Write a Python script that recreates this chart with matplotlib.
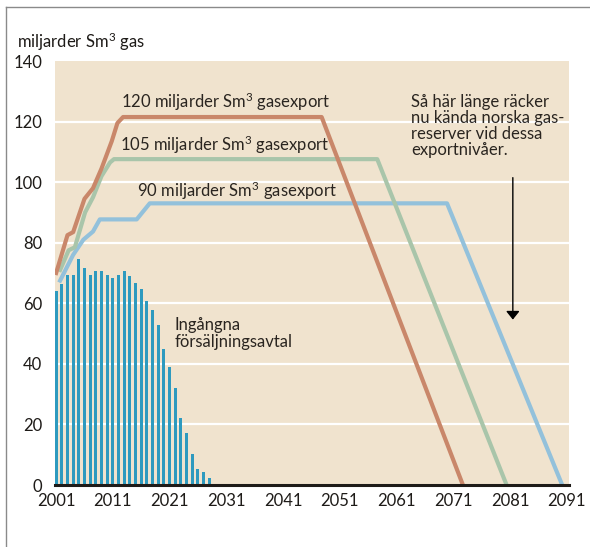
import matplotlib
matplotlib.use("Agg")
import matplotlib.pyplot as plt
from matplotlib.lines import Line2D

plt.rcParams['font.family'] = ['Lato', 'DejaVu Sans']
plt.rcParams['mathtext.fontset'] = 'custom'
plt.rcParams['mathtext.rm'] = 'Lato'
plt.rcParams['mathtext.it'] = 'Lato'

# Ingångna försäljningsavtal, one bar per year 2001-2028
bar_years = list(range(2001, 2029))
bar_values = [64, 66.3, 69.4, 69.4, 74.5, 71.6, 69.4, 70.5, 70.5, 69.4,
              68.5, 69.4, 70.5, 68.9, 66.7, 64.7, 60.7, 57.7, 52.9, 45.0,
              38.8, 32.0, 22.1, 17.3, 10.4, 5.2, 4.4, 2.4]

# export scenarios (knots of each line)
x120 = [2001, 2003, 2004, 2006, 2007.5, 2009, 2010.8, 2011.8, 2012.8, 2047.8, 2072.7]
y120 = [70, 82.5, 83.5, 94.5, 98, 104.5, 113.5, 119.5, 121.5, 121.5, 0]
x105 = [2001.7, 2003.2, 2004.3, 2006.1, 2007.5, 2009, 2010.5, 2011.2, 2057.6, 2080.4]
y105 = [71, 77.5, 78.5, 90, 95, 102, 106.5, 107.6, 107.6, 0]
x90 = [2001.7, 2004, 2005.8, 2007.5, 2008.7, 2015.2, 2017.5, 2069.9, 2090.2]
y90 = [67.5, 76, 81, 83.7, 87.7, 87.7, 93, 93, 0]

xticks = list(range(2001, 2092, 10))
yticks = list(range(0, 141, 20))

BG = '#F0E3CE'
BAR = '#2E9ABF'
ORANGE = '#C9876A'
GREEN = '#A9C5AA'
BLUE = '#93C1DB'
INK = '#1E1B18'

fig = plt.figure(figsize=(5.9, 5.47), dpi=100)
ax = fig.add_axes([55 / 590, 1 - 485 / 547, (569 - 55) / 590, (485 - 61) / 547])
ax.set_facecolor(BG)
ax.set_xlim(2000.8, 2091.4)
ax.set_ylim(0, 140)

for v in yticks[1:-1]:
    ax.axhline(v, color='white', lw=1.6, zorder=1)

ax.bar(bar_years, bar_values, width=0.52, color=BAR, zorder=2)

for xs, ys, c in [(x90, y90, BLUE), (x105, y105, GREEN), (x120, y120, ORANGE)]:
    ax.plot(xs, ys, color=c, lw=3.0, solid_joinstyle='round', zorder=3)

for s in ax.spines.values():
    s.set_visible(False)
ax.axhline(0, color=INK, lw=2.2, zorder=4, clip_on=False)

ax.set_xticks(xticks)
ax.set_xticklabels([str(t) for t in xticks], fontsize=12, color=INK)
ax.set_yticks(yticks)
ax.set_yticklabels([str(t) for t in yticks], fontsize=12, color=INK)
ax.tick_params(length=0)
ax.tick_params(axis='x', pad=6)
ax.tick_params(axis='y', pad=9)

SM3 = r'Sm$^{3}$'
txt = dict(fontsize=12, color='#2A2520', zorder=5)
ax.text(2012.5, 126.5, '120 miljarder ' + SM3 + ' gasexport', va='center', **txt)
ax.text(2012.2, 112.3, '105 miljarder ' + SM3 + ' gasexport', va='center', **txt)
ax.text(2015.2, 97.2, '90 miljarder ' + SM3 + ' gasexport', va='center', **txt)
ax.text(2021.9, 50, 'Ingångna\nförsäljningsavtal', va='center',
        linespacing=1.05, **txt)
ax.text(2063.6, 129, 'Så här länge räcker\nnu kända norska gas-\nreserver vid dessa\nexportnivåer.',
        va='top', linespacing=1.0, **txt)

ax.annotate('', xy=(2081.5, 53.7), xytext=(2081.5, 102.4),
            arrowprops=dict(arrowstyle='-|>,head_length=0.5,head_width=0.4',
                            color='black', lw=1.0), zorder=5)

fig.text(17 / 590, 1 - 42 / 547, 'miljarder ' + SM3 + ' gas', fontsize=12,
         color=INK, va='center')

# thin frame around the graphic
fig.add_artist(Line2D([5.5 / 590, 5.5 / 590], [0, 1 - 7 / 547],
                      color='#8A8A8A', lw=1.0))
fig.add_artist(Line2D([5.5 / 590, 1], [1 - 7 / 547, 1 - 7 / 547],
                      color='#8A8A8A', lw=1.0))

fig.savefig('out.png', dpi=100, facecolor='white')
